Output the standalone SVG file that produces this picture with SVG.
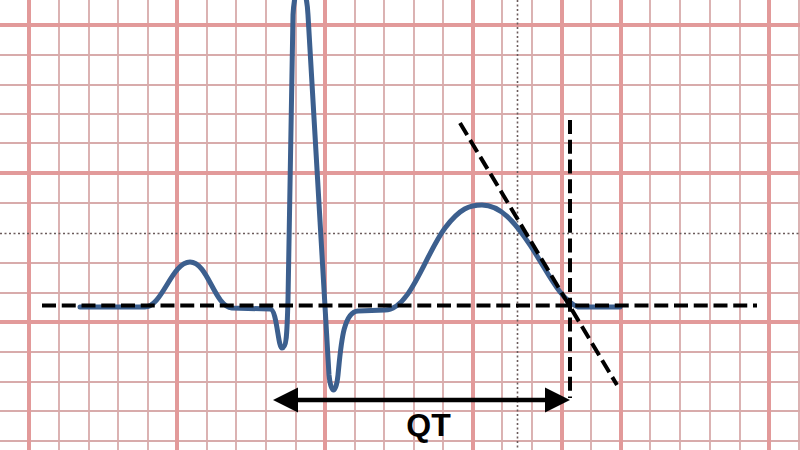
<svg xmlns="http://www.w3.org/2000/svg" width="800" height="450" viewBox="0 0 800 450">
<style>
.thin{stroke:#d8abab;stroke-width:1.8;fill:none}
.thick{stroke:#e29a9a;stroke-width:4;fill:none}
.dot{stroke:#6a5a5a;stroke-width:1.6;stroke-dasharray:2 2.5;fill:none}
.dash{stroke:#000;stroke-width:4;stroke-dasharray:14 5.75;fill:none}
.ecg{stroke:#3c5f8e;stroke-width:5;fill:none;stroke-linejoin:round;stroke-linecap:round}
</style>
<rect width="800" height="450" fill="#fff"/>
<g id="grid">
<g class="thin">
<path d="M59,0V450M89,0V450M118,0V450M148,0V450M207,0V450M236,0V450M266,0V450M296,0V450M355,0V450M384,0V450M414,0V450M443,0V450M502,0V450M532,0V450M591,0V450M650,0V450M680,0V450M710,0V450M740,0V450M799,0V450"/>
<path d="M0,55H800M0,85H800M0,114H800M0,143H800M0,203H800M0,263H800M0,293H800M0,352H800M0,382H800M0,411H800M0,441H800"/>
</g>
<g class="thick">
<path d="M29,0V450M177,0V450M325,0V450M473,0V450M562,0V450M621,0V450M769,0V450"/>
<path d="M0,25H800M0,173H800M0,322H800"/>
</g>
<g class="dot">
<path d="M517.5,0V450"/>
<path d="M0,233.5H800"/>
</g>
</g>
<g id="ecg">
<path class="ecg" d="M80,307 L145,307 C162,307 172,262 190,262 C208,262 214,306 232,308 L270,309 C277,309 278,348 282,348 C287,348 287,330 288,300 L293,15 C295,-22 306,-22 308,15 L329,375 C331,395 336,395 338,375 C341,345 343,312 358,311 L385,310 C410,310 425,255 445,228 C460,208 470,205 482,205 C500,205 515,222 530,245 C548,272 560,300 578,307 L620,307"/>
</g>
<g id="connectors">
<path class="dash" d="M42,305.5H757"/>
<path class="dash" d="M570,120V398"/>
<path class="dash" d="M460,123L617,385"/>
<g id="qt-arrow">
<path d="M292,400H552" stroke="#000" stroke-width="4.5" fill="none"/>
<polygon points="273,400 298,387.5 298,412.5" fill="#000"/>
<polygon points="570,400 545,387.5 545,412.5" fill="#000"/>
</g>
</g>
<g id="label-qt">
<text x="428.5" y="436" text-anchor="middle" font-family="Liberation Sans, Arial, sans-serif" font-weight="bold" font-size="32" fill="#000">QT</text>
</g>
</svg>
